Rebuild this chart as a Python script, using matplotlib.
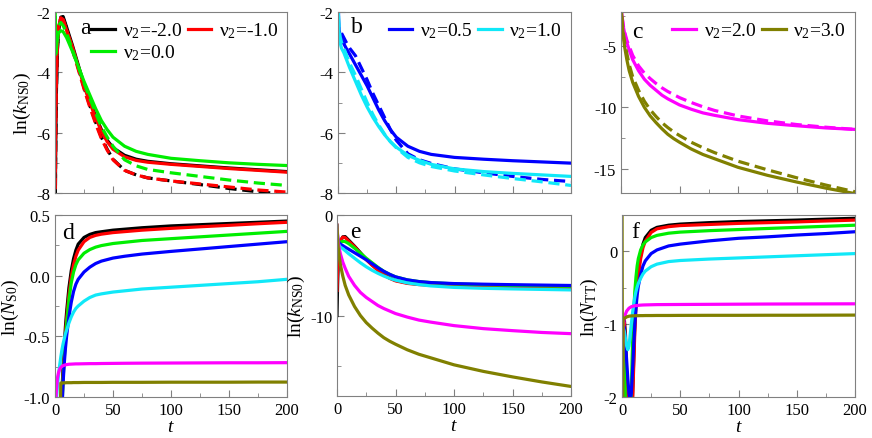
import numpy as np
import matplotlib
matplotlib.use("Agg")
import matplotlib.pyplot as plt
from matplotlib.ticker import MultipleLocator

plt.rcParams['font.family'] = ['Liberation Serif', 'DejaVu Serif']
plt.rcParams['mathtext.fontset'] = 'custom'
plt.rcParams['mathtext.rm'] = 'Liberation Serif'
plt.rcParams['mathtext.it'] = 'Liberation Serif:italic'
plt.rcParams['axes.unicode_minus'] = False

# nu2 values and colours
nu2 = ['-2.0', '-1.0', '0.0', '0.5', '1.0', '2.0', '3.0']
colors = ['#000000', '#ff0000', '#00ee00', '#0000ff', '#10e8f8', '#ff00ff', '#808000']

# ln(k_NS0): time grid, solid curves (also panel e) and dashed curves
t_k = [0, 0.5, 1, 2, 3, 5, 7, 10, 15, 20, 25, 30, 35, 40, 45, 50, 60, 70, 80, 100, 125, 150, 175, 200]
k_solid = [
    [-10, -7, -5, -3.3, -2.6, -2.17, -2.15, -2.5, -3.1, -3.75, -4.4, -4.95, -5.45, -5.9, -6.25, -6.5, -6.75, -6.88, -6.95, -7.03, -7.1, -7.17, -7.23, -7.29],
    [-7.5, -5.5, -4.2, -3.0, -2.5, -2.2, -2.25, -2.6, -3.15, -3.8, -4.45, -5.0, -5.5, -5.95, -6.3, -6.55, -6.8, -6.92, -6.98, -7.05, -7.12, -7.19, -7.25, -7.31],
    [-1.1, -3.4, -3.3, -2.9, -2.7, -2.62, -2.65, -2.85, -3.3, -3.8, -4.3, -4.75, -5.2, -5.6, -5.9, -6.15, -6.45, -6.62, -6.72, -6.85, -6.93, -7.0, -7.05, -7.09],
    [-1.1, -2.2, -2.6, -2.8, -2.9, -3.05, -3.2, -3.4, -3.75, -4.1, -4.45, -4.85, -5.25, -5.6, -5.9, -6.15, -6.45, -6.62, -6.72, -6.82, -6.88, -6.93, -6.97, -7.01],
    [-1.1, -2.3, -2.8, -3.05, -3.2, -3.35, -3.55, -3.85, -4.3, -4.75, -5.15, -5.5, -5.8, -6.07, -6.3, -6.48, -6.75, -6.92, -7.05, -7.2, -7.29, -7.35, -7.4, -7.45],
    [-1.0, -2.0, -2.7, -3.4, -3.9, -4.7, -5.3, -6.1, -7.0, -7.7, -8.2, -8.6, -9.0, -9.3, -9.55, -9.8, -10.15, -10.45, -10.65, -11.0, -11.3, -11.5, -11.68, -11.8],
    [-1.0, -2.3, -3.2, -4.2, -5.0, -6.1, -7.0, -7.95, -9.1, -10.0, -10.7, -11.25, -11.75, -12.2, -12.55, -12.85, -13.4, -13.85, -14.2, -14.9, -15.55, -16.1, -16.6, -17.05],
]
k_dashed = [
    [-10, -7, -5, -3.3, -2.6, -2.17, -2.2, -2.55, -3.2, -3.85, -4.5, -5.1, -5.65, -6.15, -6.55, -6.88, -7.25, -7.4, -7.5, -7.6, -7.72, -7.85, -7.96, -8.05],
    [-9, -6.5, -4.6, -3.1, -2.5, -2.2, -2.25, -2.6, -3.25, -3.9, -4.55, -5.15, -5.7, -6.2, -6.58, -6.9, -7.25, -7.4, -7.5, -7.6, -7.7, -7.8, -7.9, -7.97],
    [-1.1, -3.4, -3.2, -2.7, -2.45, -2.35, -2.45, -2.7, -3.25, -3.8, -4.35, -4.85, -5.35, -5.8, -6.15, -6.45, -6.9, -7.1, -7.22, -7.33, -7.45, -7.57, -7.67, -7.75],
    [np.nan, np.nan, np.nan, np.nan, -2.7, -2.85, -3.0, -3.2, -3.45, -3.85, -4.25, -4.7, -5.1, -5.5, -5.9, -6.25, -6.7, -6.9, -7.02, -7.2, -7.33, -7.45, -7.55, -7.62],
    [-1.1, -2.2, -2.6, -2.85, -3.0, -3.2, -3.4, -3.7, -4.1, -4.55, -5.0, -5.4, -5.75, -6.05, -6.3, -6.5, -6.82, -7.0, -7.12, -7.27, -7.4, -7.52, -7.63, -7.75],
    [-1.0, -2.0, -2.6, -3.3, -3.8, -4.5, -5.0, -5.75, -6.6, -7.2, -7.65, -8.05, -8.4, -8.7, -8.95, -9.2, -9.6, -9.95, -10.25, -10.7, -11.1, -11.4, -11.62, -11.8],
    [-1.0, -2.2, -3.0, -3.9, -4.6, -5.6, -6.5, -7.5, -8.6, -9.5, -10.2, -10.75, -11.25, -11.65, -12.0, -12.3, -12.85, -13.3, -13.7, -14.4, -15.1, -15.75, -16.35, -16.9],
]

# ln(N_S0), panel d
t_n = [0, 1, 2, 3, 4, 5, 6, 7, 8, 9, 10, 12, 14, 16, 18, 20, 25, 30, 35, 40, 50, 60, 75, 100, 125, 150, 175, 200]
n_s0 = [
    [-3, -3, -3, -3, -2.5, -1.4, -0.95, -0.75, -0.58, -0.42, -0.3, -0.1, 0.04, 0.14, 0.21, 0.26, 0.315, 0.34, 0.355, 0.362, 0.375, 0.383, 0.395, 0.41, 0.42, 0.43, 0.44, 0.45],
    [-3, -3, -3, -3, -2.5, -1.6, -1.05, -0.82, -0.63, -0.48, -0.36, -0.16, -0.01, 0.09, 0.16, 0.21, 0.28, 0.315, 0.332, 0.342, 0.355, 0.363, 0.375, 0.39, 0.403, 0.415, 0.428, 0.44],
    [-3, -3, -3, -3, -2.5, -1.6, -1.1, -0.85, -0.68, -0.53, -0.4, -0.2, -0.06, 0.03, 0.09, 0.13, 0.185, 0.215, 0.235, 0.248, 0.265, 0.275, 0.29, 0.305, 0.32, 0.335, 0.35, 0.365],
    [-3, -3, -3, -3, -2.5, -1.6, -1.1, -0.88, -0.72, -0.6, -0.5, -0.34, -0.22, -0.13, -0.07, -0.03, 0.03, 0.07, 0.1, 0.12, 0.145, 0.16, 0.178, 0.2, 0.22, 0.24, 0.26, 0.28],
    [-1.3, -1.05, -0.92, -0.82, -0.74, -0.67, -0.61, -0.56, -0.52, -0.48, -0.45, -0.39, -0.34, -0.3, -0.27, -0.25, -0.21, -0.18, -0.16, -0.15, -0.135, -0.125, -0.11, -0.095, -0.08, -0.065, -0.05, -0.03],
    [-1.3, -0.98, -0.85, -0.8, -0.77, -0.755, -0.748, -0.742, -0.738, -0.735, -0.733, -0.73, -0.729, -0.728, -0.727, -0.727, -0.726, -0.725, -0.725, -0.724, -0.723, -0.722, -0.721, -0.72, -0.719, -0.718, -0.718, -0.717],
    [-3, -3, -3, -3, -1.5, -0.885, -0.884, -0.884, -0.883, -0.883, -0.882, -0.882, -0.882, -0.881, -0.881, -0.881, -0.88, -0.88, -0.88, -0.88, -0.879, -0.879, -0.879, -0.878, -0.878, -0.878, -0.877, -0.877],
]

# ln(N_TT), panel f
t_f = [0, 0.5, 1, 2, 3, 4, 5, 6, 7, 8, 9, 10, 11, 12, 13, 14, 16, 18, 20, 25, 30, 40, 50, 75, 100, 125, 150, 175, 200]
n_tt = [
    [-3, -1.5, -1.05, -0.93, -1.15, -1.8, -2.5, -3, -3, -2.5, -2.0, -1.5, -1.0, -0.68, -0.45, -0.28, -0.05, 0.1, 0.19, 0.29, 0.33, 0.36, 0.375, 0.395, 0.41, 0.42, 0.43, 0.443, 0.455],
    [-3, -1.5, -1.1, -0.98, -1.25, -1.9, -2.6, -3, -3, -2.6, -2.1, -1.6, -1.1, -0.75, -0.5, -0.33, -0.1, 0.05, 0.14, 0.26, 0.31, 0.34, 0.355, 0.37, 0.385, 0.395, 0.405, 0.418, 0.43],
    [-3, -1.6, -1.3, -1.5, -2.1, -2.8, -3, -3, -2.6, -1.9, -1.3, -0.85, -0.55, -0.35, -0.2, -0.1, 0.02, 0.09, 0.13, 0.19, 0.22, 0.25, 0.265, 0.285, 0.3, 0.315, 0.33, 0.345, 0.36],
    [-3, -1.3, -1.0, -1.05, -1.25, -1.5, -1.75, -1.95, -2.05, -1.95, -1.65, -1.3, -1.0, -0.78, -0.6, -0.48, -0.32, -0.2, -0.13, -0.03, 0.02, 0.075, 0.1, 0.145, 0.18, 0.2, 0.225, 0.245, 0.27],
    [-3, -1.3, -1.05, -1.1, -1.2, -1.3, -1.35, -1.3, -1.15, -1.0, -0.85, -0.73, -0.63, -0.55, -0.49, -0.44, -0.37, -0.31, -0.27, -0.21, -0.175, -0.14, -0.125, -0.105, -0.09, -0.075, -0.06, -0.045, -0.03],
    [-3, -1.4, -1.05, -0.92, -0.86, -0.82, -0.8, -0.78, -0.77, -0.76, -0.755, -0.75, -0.747, -0.745, -0.743, -0.741, -0.738, -0.736, -0.735, -0.733, -0.731, -0.73, -0.729, -0.727, -0.725, -0.723, -0.722, -0.721, -0.72],
    [1.0, -3, -0.93, -0.92, -0.91, -0.9, -0.895, -0.89, -0.888, -0.886, -0.885, -0.885, -0.884, -0.884, -0.883, -0.883, -0.882, -0.882, -0.881, -0.881, -0.88, -0.88, -0.879, -0.878, -0.878, -0.877, -0.877, -0.876, -0.875],
]

W, H = 872, 439
fig = plt.figure(figsize=(W / 100, H / 100), dpi=100)

def box(l, t, r, b):
    return [l / W, 1 - b / H, (r - l) / W, (b - t) / H]

ax_a = fig.add_axes(box(55, 13, 287, 194))
ax_b = fig.add_axes(box(338, 13, 571, 194))
ax_c = fig.add_axes(box(621, 13, 855, 194))
ax_d = fig.add_axes(box(55, 216, 287, 398))
ax_e = fig.add_axes(box(337, 216, 571, 397))
ax_f = fig.add_axes(box(622, 216, 855, 398))

lw = 2.3
for ax, idx in [(ax_a, [0, 1, 2]), (ax_b, [3, 4]), (ax_c, [5, 6])]:
    handles = []
    for i in idx:
        ax.plot(t_k, k_dashed[i], color=colors[i], lw=lw, ls=(0, (3.5, 1.8)))
        handles += ax.plot(t_k, k_solid[i], color=colors[i], lw=lw, label='ν$_2$=' + nu2[i])
    if len(handles) == 3:
        # legend fills columns first; reorder so rows read -2.0, -1.0 / 0.0
        handles = [handles[0], handles[2], handles[1]]
    ax.legend(handles=handles, loc='upper right', ncol=2, frameon=False, fontsize=14,
              handlelength=1.2, handletextpad=0.4, columnspacing=0.3,
              borderaxespad=0.05, labelspacing=0.1)

for i in range(7):
    ax_d.plot(t_n, n_s0[i], color=colors[i], lw=lw)
    ax_e.plot(t_k, k_solid[i], color=colors[i], lw=lw)
    ax_f.plot(t_f, n_tt[i], color=colors[i], lw=lw)

ylims = [(-8, -2), (-8, -2), (-17, -2.2), (-1.0, 0.5), (-18, 0), (-2, 0.5)]
ymaj = [2, 2, 5, 0.5, 10, 1]
letters = ['a', 'b', 'c', 'd', 'e', 'f']
letter_pos = [(0.13, 0.915), (0.08, 0.92), (0.07, 0.89), (0.058, 0.905), (0.08, 0.91), (0.056, 0.91)]
axes = [ax_a, ax_b, ax_c, ax_d, ax_e, ax_f]
for n, ax in enumerate(axes):
    ax.set_xlim(0, 200)
    ax.set_ylim(*ylims[n])
    ax.xaxis.set_major_locator(MultipleLocator(50))
    ax.xaxis.set_minor_locator(MultipleLocator(25))
    ax.yaxis.set_major_locator(MultipleLocator(ymaj[n]))
    ax.yaxis.set_minor_locator(MultipleLocator(ymaj[n] / 2))
    ax.tick_params(which='both', direction='in', labelsize=12, color='#808080')
    ax.tick_params(which='major', length=5)
    ax.tick_params(which='minor', length=3)
    for s in ax.spines.values():
        s.set_color('#808080')
    ax.text(*letter_pos[n], letters[n], transform=ax.transAxes, fontsize=17,
            ha='center', va='center')
    if n < 3:
        ax.set_xticklabels([])
    else:
        ax.set_xlabel('$t$', fontsize=14, labelpad=0)

ax_d.yaxis.set_major_formatter(plt.FormatStrFormatter('%.1f'))
ax_a.set_ylabel(r'ln($k_{\mathrm{NS0}}$)', fontsize=14, labelpad=2)
ax_d.set_ylabel(r'ln($N_{\mathrm{S0}}$)', fontsize=14, labelpad=2)
ax_e.set_ylabel(r'ln($k_{\mathrm{NS0}}$)', fontsize=14, labelpad=2)
ax_f.set_ylabel(r'ln($N_{\mathrm{TT}}$)', fontsize=14, labelpad=2)

fig.savefig('out.png', dpi=100)
